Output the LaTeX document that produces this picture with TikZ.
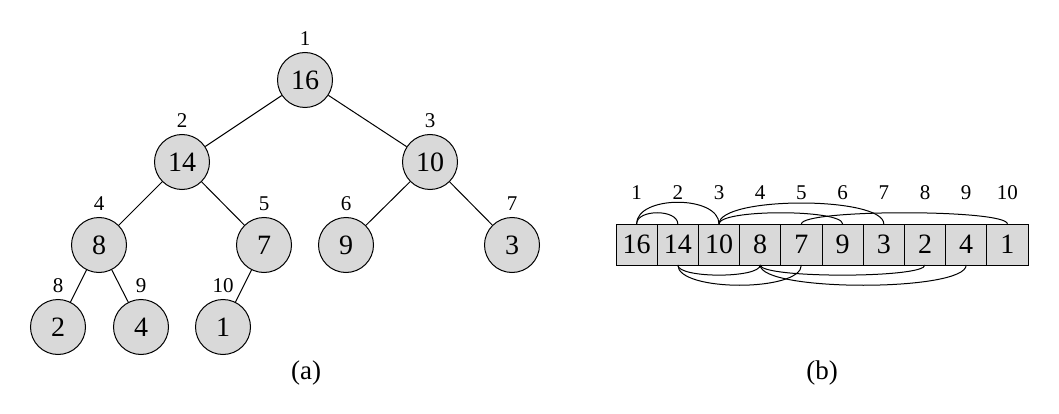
\documentclass[tikz,border=0pt]{standalone}
\usepackage{fontspec}
\setmainfont{Liberation Serif}
\definecolor{nodegray}{RGB}{217,217,217}
\begin{document}
\begin{tikzpicture}[x=1pt,y=-1pt,line width=1pt,
  heapnode/.style={circle,draw,fill=nodegray,minimum size=55pt,inner sep=0pt,font=\fontsize{28}{28}\selectfont},
  idx/.style={inner sep=0pt,font=\fontsize{21}{21}\selectfont},
  cell/.style={draw,fill=nodegray,minimum width=41.2pt,minimum height=41pt,inner sep=0pt,outer sep=0pt,font=\fontsize{28}{28}\selectfont},
  captext/.style={inner sep=0pt,font=\fontsize{27}{27}\selectfont}]
\useasboundingbox (0,0) rectangle (1059,414);
% tree
\node[heapnode] (n1) at (305,80) {16};
\node[heapnode] (n2) at (182,162) {14};
\node[heapnode] (n3) at (430,162) {10};
\node[heapnode] (n4) at (99,245) {8};
\node[heapnode] (n5) at (264,245) {7};
\node[heapnode] (n6) at (346,245) {9};
\node[heapnode] (n7) at (512,245) {3};
\node[heapnode] (n8) at (58,327) {2};
\node[heapnode] (n9) at (141,327) {4};
\node[heapnode] (n10) at (223,327) {1};
\foreach \i/\x/\y in {1/305/80,2/182/162,3/430/162,4/99/245,5/264/245,6/346/245,7/512/245,8/58/327,9/141/327,10/223/327}
  \node[idx] (l\i) at (\x,\y-41) {\i};
\draw (n1) -- (n2);
\draw (n1) -- (n3);
\draw (n2) -- (n4);
\draw (n2) -- (n5);
\draw (n3) -- (n6);
\draw (n3) -- (n7);
\draw (n4) -- (n8);
\draw (n4) -- (n9);
\draw (n5) -- (n10);
\node[captext] (capa) at (306,373) {(a)};
% array
\foreach \i/\v in {1/16,2/14,3/10,4/8,5/7,6/9,7/3,8/2,9/4,10/1} {
  \node[cell] (c\i) at (616+41.2*\i-20.6,244.5) {\v};
  \node[idx] (a\i) at (616+41.2*\i-20.6,193) {\i};
}
% arcs above
\draw (c1.north) .. controls +(0,-15) and +(0,-15) .. (c2.north);
\draw (c1.north) .. controls +(0,-29) and +(0,-29) .. (c3.north);
\draw (c3.north) .. controls +(0,-15) and +(0,-15) .. (c6.north);
\draw (c3.north) .. controls +(0,-28) and +(0,-28) .. (c7.north);
\draw (c5.north) .. controls +(0,-15) and +(0,-15) .. (c10.north);
% arcs below
\draw (c2.south) .. controls +(0,13.5) and +(0,13.5) .. (c4.south);
\draw (c2.south) .. controls +(0,27) and +(0,27) .. (c5.south);
\draw (c4.south) .. controls +(0,13.5) and +(0,13.5) .. (c8.south);
\draw (c4.south) .. controls +(0,27) and +(0,27) .. (c9.south);
\node[captext] (capb) at (822,373) {(b)};
\end{tikzpicture}
\end{document}
